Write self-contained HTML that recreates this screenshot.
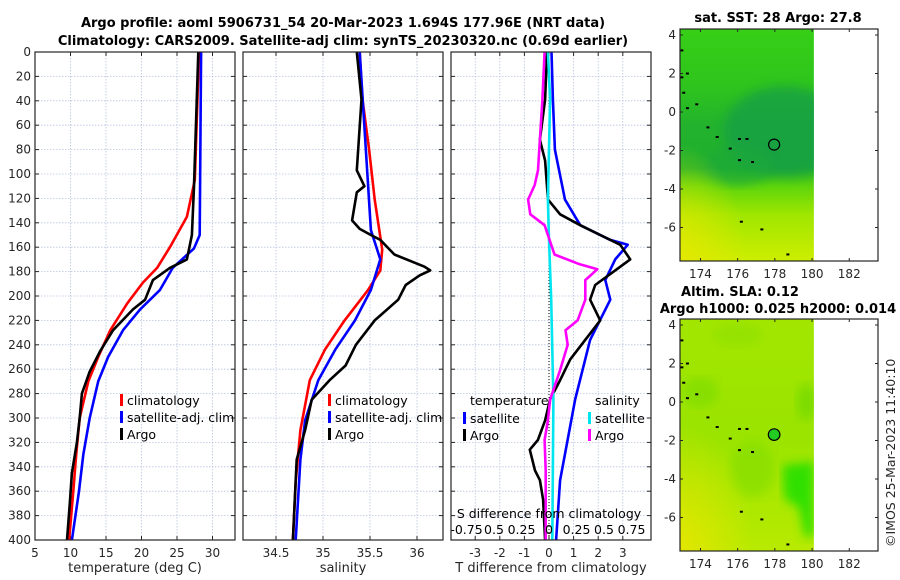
<!DOCTYPE html>
<html><head><meta charset="utf-8">
<style>
html,body{margin:0;padding:0;background:#fff;}
svg{display:block;font-family:"DejaVu Sans","Liberation Sans",sans-serif;}
.tk{font-size:12px;fill:#262626;}
.tt{font-size:13px;font-weight:bold;fill:#000;}
.lg{font-size:12.5px;fill:#000;}
</style></head>
<body>
<svg id="fig" width="900" height="580" viewBox="0 0 900 580">
<text class="tt" x="343" y="27" text-anchor="middle">Argo profile: aoml 5906731_54 20-Mar-2023 1.694S 177.96E (NRT data)</text>
<text class="tt" x="343" y="45" text-anchor="middle">Climatology: CARS2009. Satellite-adj clim: synTS_20230320.nc (0.69d earlier)</text>
<text class="tt" x="778" y="22" text-anchor="middle">sat. SST: 28 Argo: 27.8</text>
<text class="tt" x="740" y="296" text-anchor="middle">Altim. SLA: 0.12</text>
<text class="tt" x="778" y="313" text-anchor="middle">Argo h1000: 0.025 h2000: 0.014</text>
<text class="tk" transform="translate(895,547) rotate(-90)" style="font-size:12.5px">©IMOS 25-Mar-2023 11:40:10</text>
<g id="g"></g>
</svg>
<script>
// ---- data ----
const depthTicks=[0,20,40,60,80,100,120,140,160,180,200,220,240,260,280,300,320,340,360,380,400];
const tempTicks=[5,10,15,20,25,30];
const salTicks=[34.5,35,35.5,36];
const tdiffTicks=[-3,-2,-1,0,1,2,3];
const sdiffTicks=[-0.75,-0.5,-0.25,0,0.25,0.5,0.75];
const sdiffLabels=["-0.75","0.5","0.25","0","0.25","0.5","0.75"];

const climTDepth=[0,105,135,160,177,189,206,228,250,270,300,330,360,400];
const climTemp=[28.1,27.5,26.4,24.0,22.2,20.2,18.0,15.6,13.9,12.5,11.3,10.8,10.4,9.8];
const satTDepth=[0,150,161,177,195,211,228,250,270,300,330,360,400];
const satTemp=[28.4,28.2,27.4,24.4,22.6,19.8,17.4,15.3,13.9,12.7,11.8,11.2,10.2];
const argoTDepth=[0,110,150,170,177,187,203,211,228,245,262,280,300,320,345,370,400];
const argoTemp=[28.0,27.4,27.1,26.4,24.0,21.6,20.5,18.8,16.0,14.2,12.7,11.6,11.3,10.9,10.2,9.9,9.5];

const argoSDepth=[0,39,97,110,115,138,145,150,154,166,176,179,183,191,203,220,240,257,269,285,310,334,367,400];
const argoSal=[35.36,35.41,35.36,35.44,35.36,35.31,35.39,35.51,35.61,35.76,36.08,36.14,36.03,35.88,35.80,35.55,35.35,35.24,35.07,34.88,34.81,34.72,34.70,34.68];
const climSDepth=[0,39,80,121,162,179,195,220,244,269,310,352,400];
const climSal=[35.39,35.42,35.49,35.55,35.63,35.61,35.48,35.23,35.02,34.86,34.76,34.71,34.68];
const satSDepth=[0,146,170,195,220,244,269,302,334,400];
const satSal=[35.39,35.51,35.61,35.51,35.34,35.13,34.95,34.81,34.76,34.71];

const satTdDepth=[0,39,80,121,142,154,158,170,187,203,236,285,351,400];
const satTdiff=[0.1,0.16,0.24,0.65,1.27,2.49,3.2,2.69,2.29,2.49,1.67,1.06,0.45,0.29];
const argoTdDepth=[0,39,72,89,121,133,142,150,158,170,179,191,203,220,236,252,269,285,302,318,326,343,351,367,400];
const argoTdiff=[-0.08,-0.16,-0.37,-0.16,-0.04,0.45,1.27,2.08,2.9,3.3,2.69,1.88,1.67,2.08,1.47,0.86,0.45,0.04,-0.16,-0.45,-0.78,-0.57,-0.37,-0.24,-0.16];
const argoSdDepth=[0,39,97,109,121,133,142,166,174,178,187,203,220,228,240,261,285,302,318,343,400];
const argoSdiff=[-0.04,-0.06,-0.1,-0.13,-0.19,-0.17,-0.04,0.05,0.28,0.44,0.33,0.33,0.26,0.15,0.17,0.10,0.01,-0.01,-0.04,-0.03,-0.03];
const satSdDepth=[0,39,121,154,203,285,400];
const satSdiff=[-0.01,0.01,-0.01,0.0,0.02,0.04,0.03];

const lonTicks=[174,176,178,180,182];
const latTicks=[4,2,0,-2,-4,-6];
const argoLon=177.96, argoLat=-1.694;

// ---- helpers ----
const NS="http://www.w3.org/2000/svg";
const G=document.getElementById('g');
function mk(tag,attrs,parent){const e=document.createElementNS(NS,tag);for(const k in attrs)e.setAttribute(k,attrs[k]);(parent||G).appendChild(e);return e;}
const Y0=52,Y1=540;
const yD=d=>Y0+d*(Y1-Y0)/400;
const panels=[
 {x0:35,x1:235,sx:v=>35+(v-5)*7.1,ticks:tempTicks,label:"temperature (deg C)",name:"temperature"},
 {x0:243,x1:443,sx:v=>323+(v-35)*94,ticks:salTicks,label:"salinity",name:"salinity"},
 {x0:451,x1:651,sx:v=>549+v*24.6,ticks:tdiffTicks,label:"T difference from climatology",name:"difference"}
];
const sdx=v=>549+v*110;

panels.forEach((p,pi)=>{
  const gp=mk('g',{});
  
  
  depthTicks.forEach(d=>{
    const l=mk('line',{x1:p.x0,x2:p.x1,y1:yD(d),y2:yD(d),stroke:'#b8c4e0','stroke-width':0.8,'stroke-dasharray':'1.5,1.5'},gp);
    
    
  });
  p.ticks.forEach(v=>{
    const l=mk('line',{x1:p.sx(v),x2:p.sx(v),y1:Y0,y2:Y1,stroke:'#b8c4e0','stroke-width':0.8,'stroke-dasharray':'1.5,1.5'},gp);
    
    
    mk('line',{x1:p.sx(v),x2:p.sx(v),y1:Y1,y2:Y1-4,stroke:'#262626'},gp);
    mk('line',{x1:p.sx(v),x2:p.sx(v),y1:Y0,y2:Y0+4,stroke:'#262626'},gp);
    const t=mk('text',{class:'tk',x:p.sx(v),y:Y1+17,'text-anchor':'middle'},gp);
    t.textContent=String(v);
    
    
  });
  depthTicks.forEach(d=>{
    mk('line',{x1:p.x0,x2:p.x0+4,y1:yD(d),y2:yD(d),stroke:'#262626'},gp);
    mk('line',{x1:p.x1,x2:p.x1-4,y1:yD(d),y2:yD(d),stroke:'#262626'},gp);
    if(pi===0){
      const t=mk('text',{class:'tk',x:p.x0-4,y:yD(d)+4,'text-anchor':'end'},gp);
      t.textContent=String(d);
      
      
    }
  });
  const xl=mk('text',{class:'tk',x:(p.x0+p.x1)/2,y:572,'text-anchor':'middle',style:'font-size:13px'},gp);
  xl.textContent=p.label;
  
  
  p.g=gp;
});

function line(gp,xf,vals,depths,color,name,w){
  let d='';vals.forEach((v,i)=>{d+=(i?'L':'M')+xf(v).toFixed(1)+','+yD(depths[i]).toFixed(1);});
  const e=mk('path',{d:d,fill:'none',stroke:color,'stroke-width':w||2.6,'stroke-linejoin':'round'},gp);
  
  
}
const P=panels;
line(P[0].g,P[0].sx,climTemp,climTDepth,'#ff0000','climatology-temperature-line');
line(P[0].g,P[0].sx,satTemp,satTDepth,'#0000ff','satellite-temperature-line');
line(P[0].g,P[0].sx,argoTemp,argoTDepth,'#000000','argo-temperature-line');
line(P[1].g,P[1].sx,climSal,climSDepth,'#ff0000','climatology-salinity-line');
line(P[1].g,P[1].sx,satSal,satSDepth,'#0000ff','satellite-salinity-line');
line(P[1].g,P[1].sx,argoSal,argoSDepth,'#000000','argo-salinity-line');
const zl=mk('line',{x1:549,x2:549,y1:Y0,y2:Y1,stroke:'#000','stroke-width':1,'stroke-dasharray':'1,2'},P[2].g);


line(P[2].g,P[2].sx,satTdiff,satTdDepth,'#0000ff','satellite-tdiff-line');
line(P[2].g,P[2].sx,argoTdiff,argoTdDepth,'#000000','argo-tdiff-line');
line(P[2].g,sdx,satSdiff,satSdDepth,'#00e5ee','satellite-sdiff-line');
line(P[2].g,sdx,argoSdiff,argoSdDepth,'#ff00ff','argo-sdiff-line');

const sl=mk('text',{class:'lg',x:549,y:518,'text-anchor':'middle'},P[2].g);
sl.textContent='S difference from climatology';


sdiffTicks.forEach((v,i)=>{
  const t=mk('text',{class:'lg',x:sdx(v),y:534,'text-anchor':'middle'},P[2].g);
  t.textContent=sdiffLabels[i];
  
  
});

function legEntry(gp,x,y,color,txt){
  const r=mk('rect',{x:x,y:y-6,width:3,height:12,fill:color},gp);
  
  
  const t=mk('text',{class:'lg',x:x+7,y:y+5},gp);
  t.textContent=txt;
  
  
}
[[0,120],[1,328]].forEach(([pi,x])=>{
  legEntry(P[pi].g,x,400,'#ff0000','climatology');
  legEntry(P[pi].g,x,417,'#0000ff','satellite-adj. clim');
  legEntry(P[pi].g,x,434,'#000000','Argo');
});
const lt=mk('text',{class:'lg',x:470,y:405},P[2].g);lt.textContent='temperature';


const ls=mk('text',{class:'lg',x:595,y:405},P[2].g);ls.textContent='salinity';


legEntry(P[2].g,463,418,'#0000ff','satellite');
legEntry(P[2].g,463,435,'#000000','Argo');
legEntry(P[2].g,588,418,'#00e5ee','satellite');
legEntry(P[2].g,588,435,'#ff00ff','Argo');

panels.forEach(p=>{
  const f=mk('rect',{x:p.x0,y:Y0,width:p.x1-p.x0,height:Y1-Y0,fill:'none',stroke:'#262626','stroke-width':1.2},p.g);
  
  
});

// ---- maps ----
const defs=mk('defs',{});
defs.innerHTML=`
<linearGradient id="sstg" x1="0" y1="0" x2="0" y2="1">
<stop offset="0" stop-color="#36cf16"/><stop offset="0.25" stop-color="#2fc41d"/>
<stop offset="0.42" stop-color="#22b22e"/><stop offset="0.6" stop-color="#22b02c"/>
<stop offset="0.68" stop-color="#5fd50c"/><stop offset="0.8" stop-color="#9fe600"/>
<stop offset="1" stop-color="#cdee00"/></linearGradient>
<radialGradient id="sstd" cx="0.7" cy="0.42" r="0.5" gradientTransform="translate(0.35,0.21) scale(0.5,0.5) translate(-0.35,-0.21)"><stop offset="0" stop-color="#169c48" stop-opacity="0.8"/><stop offset="1" stop-color="#169c48" stop-opacity="0"/></radialGradient>
<radialGradient id="sstb" cx="0" cy="1" r="0.5"><stop offset="0" stop-color="#e6e800" stop-opacity="0.9"/><stop offset="1" stop-color="#e6e800" stop-opacity="0"/></radialGradient>
<linearGradient id="slag" x1="0" y1="0" x2="0" y2="1">
<stop offset="0" stop-color="#a2e600"/><stop offset="0.5" stop-color="#9ae400"/><stop offset="1" stop-color="#b8ea00"/></linearGradient>
<radialGradient id="slab" cx="0" cy="1" r="0.55"><stop offset="0" stop-color="#e8e600" stop-opacity="0.9"/><stop offset="1" stop-color="#e8e600" stop-opacity="0"/></radialGradient>
<filter id="blur"><feGaussianBlur stdDeviation="5"/></filter>`;
function map(top,bot,lat0y,kind){
  const gm=mk('g',{});
  
  
  const sx=lon=>680+(lon-172.9)*18.6;
  const sy=lat=>lat0y-lat*19.25;
  const cx0=sx(172.9), cx1=sx(180.1);
  const clipId='clip'+kind;
  const cp=mk('clipPath',{id:clipId},gm);
  mk('rect',{x:cx0,y:top,width:cx1-cx0,height:bot-top},cp);
  const inner=mk('g',{'clip-path':'url(#'+clipId+')'},gm);
  if(kind==='sst'){
    mk('rect',{x:cx0,y:top,width:cx1-cx0,height:bot-top,fill:'url(#sstg)'},inner);
    mk('ellipse',{cx:sx(178.5),cy:sy(-1),rx:60,ry:45,fill:'#179e46',opacity:0.75,filter:'url(#blur)'},inner);
    mk('ellipse',{cx:sx(176),cy:sy(-2.8),rx:35,ry:20,fill:'#1ea83a',opacity:0.6,filter:'url(#blur)'},inner);
    mk('rect',{x:cx0,y:top,width:cx1-cx0,height:bot-top,fill:'url(#sstb)'},inner);
  } else {
    mk('rect',{x:cx0,y:top,width:cx1-cx0,height:bot-top,fill:'url(#slag)'},inner);
    mk('ellipse',{cx:sx(174),cy:sy(0.5),rx:18,ry:15,fill:'#7edc02',opacity:0.7,filter:'url(#blur)'},inner);
    mk('ellipse',{cx:sx(176),cy:sy(3.5),rx:25,ry:12,fill:'#8ee001',opacity:0.6,filter:'url(#blur)'},inner);
    mk('ellipse',{cx:sx(176.8),cy:sy(-3.5),rx:22,ry:28,fill:'#80dd02',opacity:0.6,filter:'url(#blur)'},inner);
    mk('ellipse',{cx:sx(179.7),cy:sy(0),rx:10,ry:18,fill:'#6fd804',opacity:0.7,filter:'url(#blur)'},inner);
    mk('path',{d:`M${sx(178.4)},${sy(-3.3)}L${sx(180.1)},${sy(-3.1)}L${sx(180.1)},${sy(-7)}L${sx(179.6)},${sy(-7)}L${sx(179.3)},${sy(-5.5)}L${sx(178.5)},${sy(-5)}Z`,fill:'#33e000',filter:'url(#blur)'},inner);
    mk('rect',{x:cx0,y:top,width:cx1-cx0,height:bot-top,fill:'url(#slab)'},inner);
  }
  [[173.3,0.2],[173.8,0.4],[174.4,-0.8],[174.9,-1.3],[175.6,-1.9],[176.1,-1.4],[176.5,-1.4],[176.8,-2.6],[176.1,-2.5],[176.2,-5.7],[177.3,-6.1],[178.7,-7.4],[173.0,1.8],[173.0,3.2],[173.3,2.0],[173.1,1.0]].forEach(([lo,la])=>{
    mk('rect',{x:sx(lo)-1.5,y:sy(la)-1,width:3,height:2,fill:'#000'},gm);
  });
  const c=mk('circle',{cx:sx(argoLon),cy:sy(argoLat),r:kind==='sst'?5.5:5.8,fill:kind==='sst'?'none':'#22cc22',stroke:'#000','stroke-width':1.2},gm);
  
  
  const fr=mk('rect',{x:680,y:top,width:198,height:bot-top,fill:'none',stroke:'#262626','stroke-width':1.2},gm);
  
  
  lonTicks.forEach(v=>{
    mk('line',{x1:sx(v),x2:sx(v),y1:bot,y2:bot-3,stroke:'#262626'},gm);
    mk('line',{x1:sx(v),x2:sx(v),y1:top,y2:top+3,stroke:'#262626'},gm);
    const t=mk('text',{class:'tk',x:sx(v),y:bot+17,'text-anchor':'middle'},gm);
    t.textContent=String(v);
    
    
  });
  latTicks.forEach(v=>{
    mk('line',{x1:680,x2:683,y1:sy(v),y2:sy(v),stroke:'#262626'},gm);
    mk('line',{x1:878,x2:875,y1:sy(v),y2:sy(v),stroke:'#262626'},gm);
    const t=mk('text',{class:'tk',x:676,y:sy(v)+4,'text-anchor':'end'},gm);
    t.textContent=String(v);
    
    
  });
}
map(29,261,112,'sst');
map(319,551,402,'sla');
</script>
</body></html>
